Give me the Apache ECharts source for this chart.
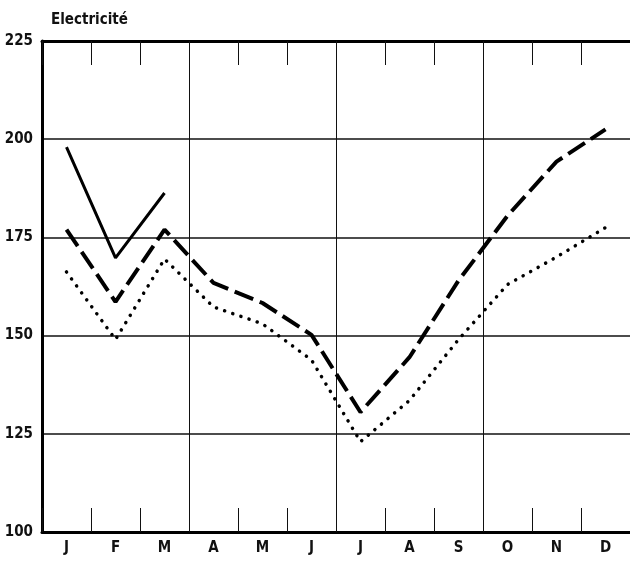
<!DOCTYPE html>
<html><head><meta charset="utf-8">
<script src="https://cdn.jsdelivr.net/npm/echarts@6/dist/echarts.min.js"></script>
<style>html,body{margin:0;padding:0;background:#fff}#c{width:630px;height:561px}</style>
</head><body><div id="c"></div>
<script>
const months = ['J','F','M','A','M','J','J','A','S','O','N','D'];
const yTicks = [100,125,150,175,200,225];
const solidSeries = [198, 169.8, 186.3, null, null, null, null, null, null, null, null, null];
const dashedSeries = [177, 158.6, 177, 163.4, 158.3, 150.2, 130.5, 144.5, 164, 180.5, 194.3, 202.5];
const dottedSeries = [166.2, 149, 169.5, 157.3, 153, 143.8, 123, 133.5, 149, 163, 170, 177.5];
const title = 'Electricité';

const font = '"DejaVu Sans Condensed","Liberation Sans Narrow",sans-serif';
const chart = echarts.init(document.getElementById('c'));
const lineBase = {type:'line', symbol:'none', smooth:false, silent:true, connectNulls:false};
chart.setOption({
  backgroundColor:'#fff',
  animation:false,
  title:{text:title, left:46, top:8, textStyle:{fontFamily:font, fontSize:15, fontWeight:'bold', color:'#111'}},
  grid:{left:42, right:0, top:41, bottom:29},
  xAxis:[{
    type:'category', data:months, boundaryGap:true, position:'bottom',
    axisLine:{lineStyle:{color:'#000', width:3}},
    axisTick:{show:true, inside:true, length:24, interval:0, lineStyle:{color:'#111', width:1}},
    axisLabel:{interval:0, margin:9, fontFamily:font, fontSize:15, fontWeight:'bold', color:'#111'},
    splitLine:{show:true, interval:function(i){return i>0 && i%3===0;}, lineStyle:{color:'#111', width:1}}
  },{
    type:'category', data:months, boundaryGap:true, position:'top',
    axisLine:{lineStyle:{color:'#000', width:3}},
    axisTick:{show:true, inside:true, length:24, interval:0, lineStyle:{color:'#111', width:1}},
    axisLabel:{show:false}, splitLine:{show:false}
  }],
  yAxis:{
    type:'value', min:yTicks[0], max:yTicks[yTicks.length-1], interval:25,
    axisLine:{show:true, lineStyle:{color:'#000', width:3}},
    axisTick:{show:false},
    axisLabel:{margin:9, fontFamily:font, fontSize:15, fontWeight:'bold', color:'#111'},
    splitLine:{show:true, lineStyle:{color:'#111', width:1.5}}
  },
  series:[
    Object.assign({}, lineBase, {name:'solid', data:solidSeries, lineStyle:{color:'#000', width:3, type:'solid'}}),
    Object.assign({}, lineBase, {name:'dashed', data:dashedSeries, lineStyle:{color:'#000', width:4, type:[20,7]}}),
    Object.assign({}, lineBase, {name:'dotted', data:dottedSeries, lineStyle:{color:'#000', width:3.5, type:[0.1,8.5], cap:'round'}})
  ]
});
</script></body></html>
